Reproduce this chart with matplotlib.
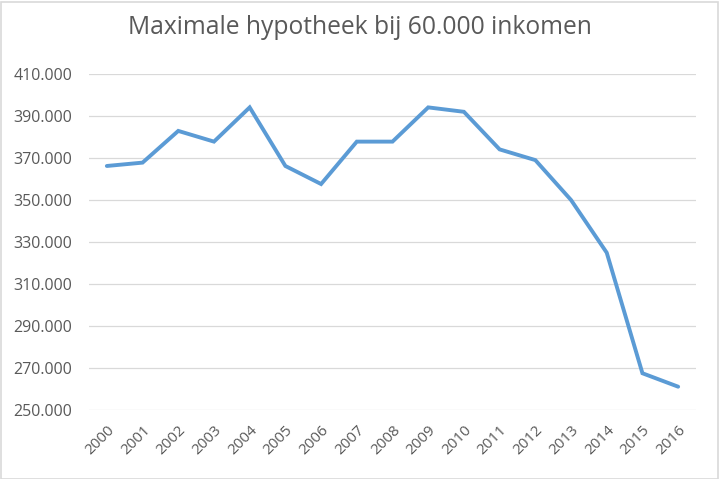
import matplotlib
matplotlib.use("Agg")
import matplotlib.pyplot as plt
from matplotlib.patches import Rectangle
from matplotlib.ticker import FuncFormatter

# --- data ---
years = [str(y) for y in range(2000, 2017)]
hypotheek = [366200, 367800, 382900, 377800, 394100, 366200, 357600, 377800,
             377800, 394100, 392000, 374100, 369000, 350000, 324900, 267500, 261100]
y_ticks = list(range(250000, 410001, 20000))

plt.rcParams['font.family'] = ['Open Sans', 'DejaVu Sans']

fig = plt.figure(figsize=(7.19, 4.79), dpi=100)
ax = fig.add_axes([89 / 719, 1 - 410 / 479, (696 - 89) / 719, (410 - 74) / 479])

x = list(range(len(years)))
ax.plot(x, hypotheek, color='#5B9BD5', linewidth=2.8, solid_joinstyle='miter',
        solid_capstyle='round', zorder=3)

ax.set_xlim(-0.5, len(years) - 0.5)
ax.set_ylim(250000, 410000)
ax.set_yticks(y_ticks)
ax.yaxis.set_major_formatter(FuncFormatter(lambda v, p: f"{int(v):,}".replace(",", ".")))
ax.set_xticks(x)
ax.set_xticklabels(years, rotation=45, ha='right', va='top', rotation_mode='anchor')

ax.grid(axis='y', color='#D9D9D9', linewidth=0.9)
ax.set_axisbelow(True)
for s in ax.spines.values():
    s.set_visible(False)
ax.tick_params(axis='both', length=0, labelcolor='#595959')
ax.tick_params(axis='y', pad=12, labelsize=11.5)
ax.tick_params(axis='x', pad=9, labelsize=11)

fig.text(0.5, 1 - 27 / 479, "Maximale hypotheek bij 60.000 inkomen", ha='center', va='center',
         fontsize=17.7, color='#595959')

# chart area border
fig.patches.append(Rectangle((0.5 / 719, 0.5 / 479), 717 / 719, 477 / 479, transform=fig.transFigure,
                             fill=False, edgecolor='#D9D9D9', linewidth=1.2))

fig.savefig("out.png", dpi=100)
